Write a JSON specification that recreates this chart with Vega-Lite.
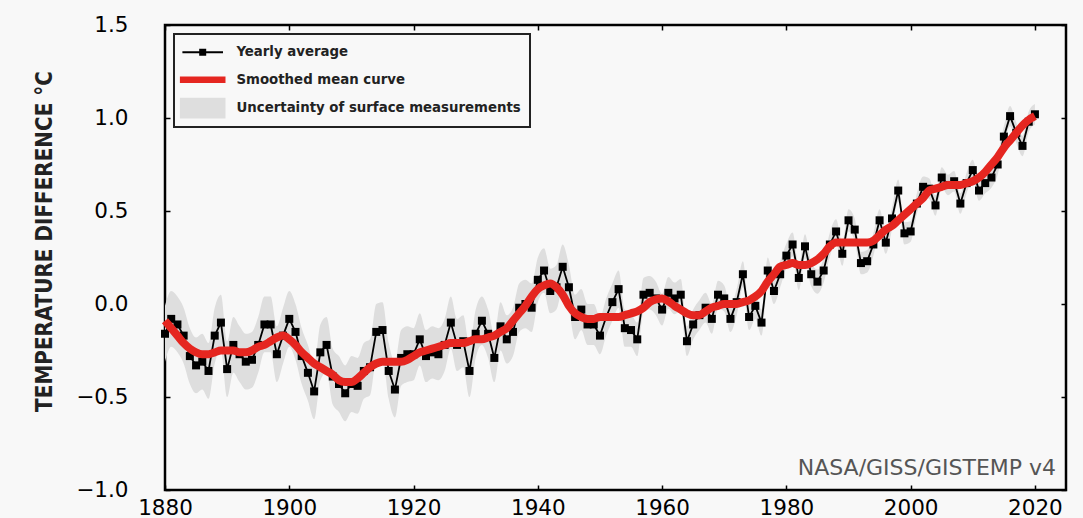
{
  "$schema": "https://vega.github.io/schema/vega-lite/v6.json",
  "autosize": {"type": "none"},
  "padding": {"left": 165, "top": 25, "right": 17, "bottom": 28},
  "width": 901,
  "height": 465,
  "background": "#f8f8f8",
  "data": {"values": [
    {"year":1880,"t":-0.16,"s":-0.09,"u":0.15},{"year":1881,"t":-0.08,"s":-0.13,"u":0.15},{"year":1882,"t":-0.11,"s":-0.17,"u":0.15},{"year":1883,"t":-0.17,"s":-0.21,"u":0.15},{"year":1884,"t":-0.28,"s":-0.24,"u":0.15},
    {"year":1885,"t":-0.33,"s":-0.26,"u":0.15},{"year":1886,"t":-0.31,"s":-0.27,"u":0.15},{"year":1887,"t":-0.36,"s":-0.27,"u":0.15},{"year":1888,"t":-0.17,"s":-0.26,"u":0.15},{"year":1889,"t":-0.10,"s":-0.25,"u":0.15},
    {"year":1890,"t":-0.35,"s":-0.25,"u":0.15},{"year":1891,"t":-0.22,"s":-0.25,"u":0.15},{"year":1892,"t":-0.27,"s":-0.26,"u":0.15},{"year":1893,"t":-0.31,"s":-0.26,"u":0.15},{"year":1894,"t":-0.30,"s":-0.25,"u":0.15},
    {"year":1895,"t":-0.22,"s":-0.23,"u":0.15},{"year":1896,"t":-0.11,"s":-0.22,"u":0.15},{"year":1897,"t":-0.11,"s":-0.20,"u":0.15},{"year":1898,"t":-0.27,"s":-0.18,"u":0.15},{"year":1899,"t":-0.17,"s":-0.17,"u":0.15},
    {"year":1900,"t":-0.08,"s":-0.19,"u":0.15},{"year":1901,"t":-0.15,"s":-0.22,"u":0.15},{"year":1902,"t":-0.28,"s":-0.26,"u":0.15},{"year":1903,"t":-0.37,"s":-0.29,"u":0.15},{"year":1904,"t":-0.47,"s":-0.32,"u":0.15},
    {"year":1905,"t":-0.26,"s":-0.34,"u":0.15},{"year":1906,"t":-0.22,"s":-0.36,"u":0.15},{"year":1907,"t":-0.39,"s":-0.38,"u":0.15},{"year":1908,"t":-0.43,"s":-0.41,"u":0.15},{"year":1909,"t":-0.48,"s":-0.42,"u":0.15},
    {"year":1910,"t":-0.43,"s":-0.42,"u":0.15},{"year":1911,"t":-0.44,"s":-0.40,"u":0.15},{"year":1912,"t":-0.36,"s":-0.37,"u":0.15},{"year":1913,"t":-0.34,"s":-0.34,"u":0.15},{"year":1914,"t":-0.15,"s":-0.32,"u":0.15},
    {"year":1915,"t":-0.14,"s":-0.31,"u":0.15},{"year":1916,"t":-0.36,"s":-0.31,"u":0.15},{"year":1917,"t":-0.46,"s":-0.31,"u":0.15},{"year":1918,"t":-0.29,"s":-0.31,"u":0.15},{"year":1919,"t":-0.27,"s":-0.30,"u":0.15},
    {"year":1920,"t":-0.27,"s":-0.28,"u":0.14},{"year":1921,"t":-0.19,"s":-0.26,"u":0.14},{"year":1922,"t":-0.28,"s":-0.25,"u":0.14},{"year":1923,"t":-0.26,"s":-0.24,"u":0.14},{"year":1924,"t":-0.27,"s":-0.23,"u":0.14},
    {"year":1925,"t":-0.22,"s":-0.22,"u":0.14},{"year":1926,"t":-0.10,"s":-0.21,"u":0.14},{"year":1927,"t":-0.22,"s":-0.21,"u":0.14},{"year":1928,"t":-0.20,"s":-0.21,"u":0.14},{"year":1929,"t":-0.36,"s":-0.20,"u":0.14},
    {"year":1930,"t":-0.16,"s":-0.19,"u":0.13},{"year":1931,"t":-0.09,"s":-0.19,"u":0.13},{"year":1932,"t":-0.16,"s":-0.18,"u":0.13},{"year":1933,"t":-0.29,"s":-0.17,"u":0.13},{"year":1934,"t":-0.12,"s":-0.15,"u":0.13},
    {"year":1935,"t":-0.19,"s":-0.13,"u":0.13},{"year":1936,"t":-0.15,"s":-0.09,"u":0.13},{"year":1937,"t":-0.02,"s":-0.05,"u":0.13},{"year":1938,"t":0.00,"s":-0.01,"u":0.13},{"year":1939,"t":-0.02,"s":0.04,"u":0.13},
    {"year":1940,"t":0.13,"s":0.08,"u":0.12},{"year":1941,"t":0.18,"s":0.10,"u":0.12},{"year":1942,"t":0.07,"s":0.11,"u":0.12},{"year":1943,"t":0.09,"s":0.09,"u":0.12},{"year":1944,"t":0.20,"s":0.05,"u":0.12},
    {"year":1945,"t":0.09,"s":-0.01,"u":0.12},{"year":1946,"t":-0.07,"s":-0.05,"u":0.12},{"year":1947,"t":-0.03,"s":-0.07,"u":0.11},{"year":1948,"t":-0.11,"s":-0.08,"u":0.11},{"year":1949,"t":-0.11,"s":-0.08,"u":0.11},
    {"year":1950,"t":-0.17,"s":-0.07,"u":0.10},{"year":1951,"t":-0.07,"s":-0.07,"u":0.10},{"year":1952,"t":0.01,"s":-0.07,"u":0.10},{"year":1953,"t":0.08,"s":-0.07,"u":0.10},{"year":1954,"t":-0.13,"s":-0.06,"u":0.10},
    {"year":1955,"t":-0.14,"s":-0.05,"u":0.09},{"year":1956,"t":-0.19,"s":-0.04,"u":0.09},{"year":1957,"t":0.05,"s":-0.02,"u":0.09},{"year":1958,"t":0.06,"s":0.01,"u":0.09},{"year":1959,"t":0.03,"s":0.025,"u":0.09},
    {"year":1960,"t":-0.03,"s":0.03,"u":0.085},{"year":1961,"t":0.06,"s":0.015,"u":0.085},{"year":1962,"t":0.03,"s":-0.01,"u":0.085},{"year":1963,"t":0.05,"s":-0.03,"u":0.085},{"year":1964,"t":-0.20,"s":-0.05,"u":0.08},
    {"year":1965,"t":-0.11,"s":-0.06,"u":0.08},{"year":1966,"t":-0.06,"s":-0.06,"u":0.08},{"year":1967,"t":-0.02,"s":-0.04,"u":0.08},{"year":1968,"t":-0.08,"s":-0.02,"u":0.08},{"year":1969,"t":0.05,"s":-0.01,"u":0.075},
    {"year":1970,"t":0.03,"s":0.00,"u":0.07},{"year":1971,"t":-0.08,"s":0.00,"u":0.07},{"year":1972,"t":0.01,"s":0.00,"u":0.07},{"year":1973,"t":0.16,"s":0.01,"u":0.07},{"year":1974,"t":-0.07,"s":0.02,"u":0.07},
    {"year":1975,"t":-0.01,"s":0.04,"u":0.07},{"year":1976,"t":-0.10,"s":0.07,"u":0.07},{"year":1977,"t":0.18,"s":0.12,"u":0.07},{"year":1978,"t":0.07,"s":0.16,"u":0.07},{"year":1979,"t":0.16,"s":0.20,"u":0.07},
    {"year":1980,"t":0.26,"s":0.21,"u":0.065},{"year":1981,"t":0.32,"s":0.22,"u":0.065},{"year":1982,"t":0.14,"s":0.21,"u":0.065},{"year":1983,"t":0.31,"s":0.21,"u":0.065},{"year":1984,"t":0.16,"s":0.22,"u":0.065},
    {"year":1985,"t":0.12,"s":0.24,"u":0.065},{"year":1986,"t":0.18,"s":0.27,"u":0.065},{"year":1987,"t":0.32,"s":0.31,"u":0.065},{"year":1988,"t":0.39,"s":0.33,"u":0.065},{"year":1989,"t":0.27,"s":0.33,"u":0.065},
    {"year":1990,"t":0.45,"s":0.33,"u":0.06},{"year":1991,"t":0.40,"s":0.33,"u":0.06},{"year":1992,"t":0.22,"s":0.33,"u":0.06},{"year":1993,"t":0.23,"s":0.33,"u":0.06},{"year":1994,"t":0.32,"s":0.34,"u":0.06},
    {"year":1995,"t":0.45,"s":0.37,"u":0.06},{"year":1996,"t":0.33,"s":0.40,"u":0.06},{"year":1997,"t":0.46,"s":0.42,"u":0.06},{"year":1998,"t":0.61,"s":0.45,"u":0.06},{"year":1999,"t":0.38,"s":0.48,"u":0.06},
    {"year":2000,"t":0.39,"s":0.51,"u":0.055},{"year":2001,"t":0.54,"s":0.54,"u":0.055},{"year":2002,"t":0.63,"s":0.57,"u":0.055},{"year":2003,"t":0.62,"s":0.61,"u":0.055},{"year":2004,"t":0.53,"s":0.62,"u":0.055},
    {"year":2005,"t":0.68,"s":0.63,"u":0.055},{"year":2006,"t":0.64,"s":0.64,"u":0.055},{"year":2007,"t":0.66,"s":0.64,"u":0.055},{"year":2008,"t":0.54,"s":0.64,"u":0.055},{"year":2009,"t":0.65,"s":0.65,"u":0.055},
    {"year":2010,"t":0.72,"s":0.66,"u":0.055},{"year":2011,"t":0.61,"s":0.68,"u":0.055},{"year":2012,"t":0.65,"s":0.71,"u":0.055},{"year":2013,"t":0.68,"s":0.75,"u":0.055},{"year":2014,"t":0.75,"s":0.79,"u":0.055},
    {"year":2015,"t":0.90,"s":0.84,"u":0.055},{"year":2016,"t":1.01,"s":0.88,"u":0.055},{"year":2017,"t":0.92,"s":0.92,"u":0.055},{"year":2018,"t":0.85,"s":0.96,"u":0.055},{"year":2019,"t":0.98,"s":0.99,"u":0.055},
    {"year":2020,"t":1.02,"s":1.01,"u":0.055}
  ]},
  "resolve": {"axis": {"x": "independent", "y": "independent"}},
  "layer": [
    {
      "mark": {"type": "errorband", "interpolate": "monotone", "color": "#dedede", "band": {"opacity": 1, "color": "#dedede"}},
      "encoding": {
        "x": {"field": "year", "type": "quantitative",
              "scale": {"domain": [1880, 2025], "nice": false, "zero": false},
              "axis": {"orient": "bottom", "title": null, "values": [1880,1900,1920,1940,1960,1980,2000,2020], "format": "d", "labelPadding": 12}},
        "y": {"field": "t", "type": "quantitative",
              "scale": {"domain": [-1, 1.5], "nice": false, "zero": false},
              "axis": {"orient": "left", "title": "TEMPERATURE DIFFERENCE °C", "values": [-1,-0.5,0,0.5,1,1.5], "format": ".1f", "labelPadding": 42,
                       "titleFont": "DejaVu Sans Condensed, Liberation Sans Narrow, Roboto, sans-serif", "titleFontWeight": "bold", "titleFontSize": 22.2, "titleColor": "#222",
                       "titleX": -121, "titleY": 216, "titleAngle": 270, "titleAlign": "center", "titleBaseline": "middle", "titleLimit": 0}},
        "yError": {"field": "u"}
      }
    },
    {
      "mark": {"type": "line", "strokeWidth": 1.8, "color": "black", "point": {"shape": "square", "size": 64, "filled": true, "opacity": 1, "color": "black"}},
      "encoding": {
        "x": {"field": "year", "type": "quantitative", "axis": null},
        "y": {"field": "t", "type": "quantitative", "axis": null}
      }
    },
    {
      "mark": {"type": "line", "strokeWidth": 8, "interpolate": "monotone", "color": "#e52620"},
      "encoding": {
        "x": {"field": "year", "type": "quantitative", "axis": null},
        "y": {"field": "s", "type": "quantitative", "axis": null}
      }
    },
    {
      "data": {"values": []},
      "mark": {"type": "point", "filled": true, "opacity": 1, "strokeWidth": 0},
      "encoding": {
        "color": {"datum": "Yearly average", "type": "nominal",
          "scale": {"domain": ["Yearly average", "Smoothed mean curve", "Uncertainty of surface measurements"], "range": ["black", "#e52620", "#dedede"]},
          "legend": {"title": null, "orient": "top-left", "offset": 9, "padding": 8.3, "fillColor": "#f8f8f8", "strokeColor": "#222",
            "symbolSize": 400, "symbolStrokeWidth": 0, "symbolOpacity": 1, "labelFont": "DejaVu Sans Condensed, Liberation Sans Narrow, Roboto, sans-serif", "labelFontWeight": "bold", "labelFontSize": 14.8, "labelColor": "#222",
            "labelOffset": 34.2, "rowPadding": 10.4, "labelLimit": 0}},
        "shape": {"datum": "Yearly average", "type": "nominal",
          "scale": {"domain": ["Yearly average", "Smoothed mean curve", "Uncertainty of surface measurements"],
                    "range": ["M-0.99,-0.1H3.07V0.1H-0.99Z M0.69,-0.35H1.39V0.35H0.69Z", "M-1.24,-0.33H3.32V0.33H-1.24Z", "M-1.24,-1.03H3.32V1.03H-1.24Z"]},
          "legend": {"title": null, "orient": "top-left", "offset": 9, "padding": 8.3, "fillColor": "#f8f8f8", "strokeColor": "#222",
            "symbolSize": 400, "symbolStrokeWidth": 0, "symbolOpacity": 1, "labelFont": "DejaVu Sans Condensed, Liberation Sans Narrow, Roboto, sans-serif", "labelFontWeight": "bold", "labelFontSize": 14.8, "labelColor": "#222",
            "labelOffset": 34.2, "rowPadding": 10.4, "labelLimit": 0}}
      }
    },
    {
      "data": {"values": [{"year": 2023.4, "t": -0.92, "label": "NASA/GISS/GISTEMP v4"}]},
      "mark": {"type": "text", "align": "right", "baseline": "alphabetic", "font": "DejaVu Sans", "fontSize": 22, "color": "#555"},
      "encoding": {
        "x": {"field": "year", "type": "quantitative", "axis": {"orient": "top", "labels": false, "title": null, "values": [1880,1900,1920,1940,1960,1980,2000,2020]}},
        "y": {"field": "t", "type": "quantitative", "axis": {"orient": "right", "labels": false, "title": null, "values": [-1,-0.5,0,0.5,1,1.5]}},
        "text": {"field": "label"}
      }
    }
  ],
  "config": {
    "view": {"stroke": "black", "strokeWidth": 2.5, "fill": "#f8f8f8"},
    "legend": {"strokeWidth": 2},
    "axis": {"grid": false, "domain": false, "tickColor": "black", "tickWidth": 1.5, "tickSize": -5,
             "labelFont": "DejaVu Sans", "labelFontSize": 21.5, "labelColor": "black", "labelFlush": false, "labelOverlap": false}
  }
}
